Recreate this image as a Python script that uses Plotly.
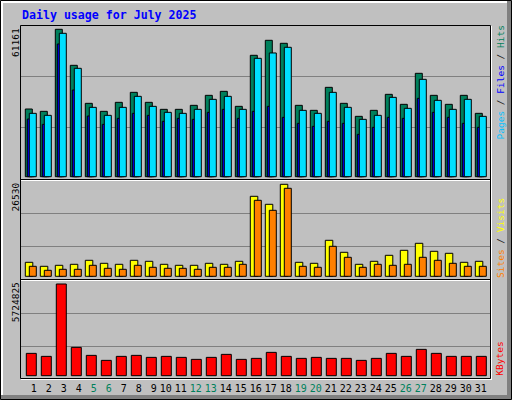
import plotly.graph_objects as go

W, H = 512, 400

days = list(range(1, 32))
weekend = [5, 6, 12, 13, 19, 20, 26, 27]

hits = [28089, 27121, 61161, 46216, 30442, 27121, 30857, 35008, 30857, 27951, 27951,
        29611, 33763, 35423, 29196, 50369, 56595, 55349, 29611, 27536, 37084, 30442,
        25045, 27536, 34178, 30027, 42896, 33763, 30027, 33763, 26291]
files = [23938, 21724, 55071, 35976, 25183, 21724, 24215, 26291, 25460, 22970, 24215,
         23800, 26706, 27951, 24215, 27121, 29196, 24630, 22139, 20894, 22970, 22139,
         17573, 20479, 24630, 24215, 32517, 26706, 24630, 22139, 20479]
pages = [26291, 25460, 59499, 44970, 28781, 25460, 28781, 33347, 29196, 26706, 26291,
         27951, 32102, 33347, 27951, 49121, 51335, 53688, 27536, 26291, 35008, 28781,
         23800, 25460, 32932, 28366, 40404, 31687, 27951, 32102, 25045]
visits = [4037, 2884, 3172, 3460, 4614, 3749, 3460, 4614, 4325, 3460, 3172, 3172, 3749,
          3460, 4325, 23069, 20762, 26530, 4037, 3749, 10381, 6921, 3460, 4325, 6056,
          7497, 9516, 7209, 6632, 4037, 4325]
sites = [2884, 1730, 2019, 2019, 3172, 2307, 2019, 3172, 2595, 2307, 2307, 2019, 2595,
         2595, 3460, 21915, 19032, 25376, 2884, 2595, 8651, 5479, 2595, 3460, 3172,
         3460, 5479, 4614, 3749, 2884, 2884]
kbytes = [1394773, 1207415, 5724825, 1769488, 1269868, 957605, 1207415, 1269868,
          1144963, 1207415, 1144963, 1020058, 1144963, 1332320, 1020058, 1082510,
          1457225, 1207415, 1082510, 1144963, 1082510, 1082510, 957605, 1082510,
          1394773, 1207415, 1644583, 1394773, 1207415, 1207415, 1207415]

MONO = "DejaVu Sans Mono"
GREEN, BLUE, CYAN = "#00805c", "#0000ff", "#00e0ff"
YELLOW, ORANGE, RED = "#ffff00", "#ff8000", "#ff0000"
GRAY = "#c0c0c0"

def px(v): return v / W
def py(v): return 1 - v / H

# one day slot = 15 px, slot centre of day 1 sits at x=30.8 px
DAY = 15.0
X0 = 30.8
xrange_ = [1 + (20 - X0) / DAY, 1 + (491 - X0) / DAY]

# panel geometry in pixels: top, bottom, bar base, peak bar top, grid lines
panels = [
    (25, 179, 176.7, 29.3, [127.3, 76.3], max(hits)),
    (180, 279, 276.3, 184.3, [246.3, 213.3], max(visits)),
    (280, 378, 375.7, 284.0, [346.7, 313.3], max(kbytes)),
]

fig = go.Figure()

def bars(y, color, off, wid, ax):
    fig.add_trace(go.Bar(
        x=days, y=y, xaxis="x" + ax, yaxis="y" + ax,
        offset=off / DAY, width=wid / DAY,
        marker=dict(color=color, line=dict(color="black", width=1)),
        hoverinfo="y", showlegend=False))

bars(hits, GREEN, -5.5, 7, "")
bars(files, BLUE, -3.5, 7, "")
bars(pages, CYAN, -1.5, 7, "")
bars(visits, YELLOW, -5.5, 7.5, "2")
bars(sites, ORANGE, -1.5, 7, "2")
bars(kbytes, RED, -4.5, 10, "3")

ticktext = []
for d in days:
    s = str(d)
    if d in weekend:
        s = '<span style="color:%s">%s</span>' % (GREEN, s)
    if d < 10:
        s = "\u00a0" + s
    ticktext.append(s)

layout = dict(
    width=W, height=H, margin=dict(l=0, r=0, t=0, b=0),
    paper_bgcolor=GRAY, plot_bgcolor=GRAY, barmode="overlay",
    showlegend=False, font=dict(family=MONO, color="black"),
)
for i, (top, bot, base, peak_px, grids, peak) in enumerate(panels):
    k = peak / (base - peak_px)
    sfx = "" if i == 0 else str(i + 1)
    layout["yaxis" + sfx] = dict(
        domain=[py(bot), py(top)], range=[-(bot - base) * k, (base - top) * k],
        anchor="x" + sfx, tickvals=[(base - g) * k for g in grids],
        showticklabels=False, showgrid=True, gridcolor="#808080", gridwidth=1,
        zeroline=False, showline=False, fixedrange=True)
    layout["xaxis" + sfx] = dict(
        domain=[px(20), px(491)], range=xrange_, anchor="y" + sfx,
        showgrid=False, zeroline=False, showline=False, ticks="",
        showticklabels=(i == 2), tickvals=days, ticktext=ticktext,
        tickfont=dict(family=MONO, size=10, color="black"), tickangle=0,
        ticklabelstandoff=3, fixedrange=True)
fig.update_layout(**layout)

shapes = []
def rect(x0, y0, x1, y1, fill=None, line=None):
    shapes.append(dict(type="rect", xref="paper", yref="paper",
                       x0=px(x0), x1=px(x1), y0=py(y1), y1=py(y0),
                       fillcolor=fill or "rgba(0,0,0,0)",
                       line=dict(width=1 if line else 0, color=line or "rgba(0,0,0,0)")))
def hline(x0, x1, y, color):
    shapes.append(dict(type="line", xref="paper", yref="paper",
                       x0=px(x0), x1=px(x1), y0=py(y), y1=py(y),
                       line=dict(width=1, color=color)))
def vline(x, y0, y1, color):
    shapes.append(dict(type="line", xref="paper", yref="paper",
                       x0=px(x), x1=px(x), y0=py(y0), y1=py(y1),
                       line=dict(width=1, color=color)))

# outer bevelled border
rect(1, 1, 3, 396, fill="white")
rect(1, 1, 507, 3, fill="white")
rect(507, 1, 511, 399, fill="#808080")
rect(1, 395, 511, 399, fill="#808080")
rect(0.5, 0.5, 511.5, 399.5, line="black")

# panel frame
rect(20.5, 25.5, 490.5, 378.5, line="black")
hline(20.5, 490.5, 179.5, "black")
hline(20.5, 490.5, 279.5, "black")
hline(21, 490, 180.5, "white")
hline(21, 490, 280.5, "white")
vline(491.5, 26, 379.5, "white")
hline(21, 492, 379.5, "white")
fig.update_layout(shapes=shapes)

ann = []
ann.append(dict(text="<b>Daily usage for July 2025</b>", x=px(20), y=py(15),
                xanchor="left", yanchor="middle",
                font=dict(family=MONO, size=11.6, color=BLUE)))
for lbl, ycen in [(str(max(hits)), 42.5), (str(max(visits)), 197), (str(max(kbytes)), 302.7)]:
    ann.append(dict(text=lbl, x=px(15.5), y=py(ycen), textangle=-90,
                    xanchor="center", yanchor="middle",
                    font=dict(family=MONO, size=9.5, color="black")))
right = [
    ('<span style="color:#00c0ff">Pages</span> / <span style="color:#0000ff">Files</span>'
     ' / <span style="color:#00805c">Hits</span>', 82.5),
    ('<span style="color:#ff8000">Sites</span> / <span style="color:#ffff00">Visits</span>', 238),
    ('<span style="color:#ff0000">KBytes</span>', 358.7),
]
for txt, ycen in right:
    ann.append(dict(text=txt, x=px(500), y=py(ycen), textangle=-90,
                    xanchor="center", yanchor="middle",
                    font=dict(family=MONO, size=9.5, color="#202020")))
for a in ann:
    a.update(xref="paper", yref="paper", showarrow=False)
fig.update_layout(annotations=ann)

# the page body has a default 8px margin; drop it so the figure fills the window
fig.write_html("out.html", config={"displayModeBar": False},
               post_script="document.body.style.margin='0px';")
